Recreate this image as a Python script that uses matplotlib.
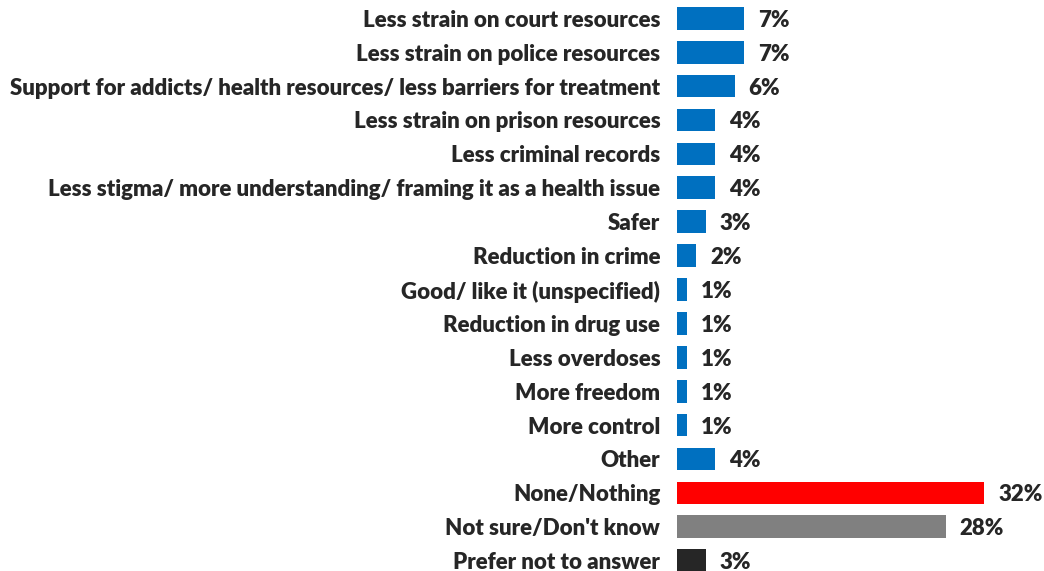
import matplotlib
matplotlib.use('Agg')
import matplotlib.pyplot as plt

# Answers, top to bottom
categories = [
    'Less strain on court resources',
    'Less strain on police resources',
    'Support for addicts/ health resources/ less barriers for treatment',
    'Less strain on prison resources',
    'Less criminal records',
    'Less stigma/ more understanding/ framing it as a health issue',
    'Safer',
    'Reduction in crime',
    'Good/ like it (unspecified)',
    'Reduction in drug use',
    'Less overdoses',
    'More freedom',
    'More control',
    'Other',
    'None/Nothing',
    "Not sure/Don't know",
    'Prefer not to answer',
]
values = [7, 7, 6, 4, 4, 4, 3, 2, 1, 1, 1, 1, 1, 4, 32, 28, 3]
value_labels = ['7%', '7%', '6%', '4%', '4%', '4%', '3%', '2%', '1%', '1%',
                '1%', '1%', '1%', '4%', '32%', '28%', '3%']

blue = '#0070C0'
colors = [blue] * 14 + ['#FF0000', '#808080', '#262626']
text_color = '#262626'

plt.rcParams['font.family'] = ['Lato', 'DejaVu Sans']

fig = plt.figure(figsize=(10.44, 5.71), dpi=100)
ax = fig.add_axes([677 / 1044, 0, 367 / 1044, 1])

pos = list(range(len(categories)))
ax.barh(pos, values, height=0.67, color=colors)

for p, v, lab in zip(pos, values, value_labels):
    ax.annotate(lab, xy=(v, p), xytext=(14, -2), textcoords='offset pixels',
                ha='left', va='center', fontsize=16, fontweight='heavy',
                color=text_color)

ax.set_yticks(pos)
ax.set_yticklabels(categories, fontsize=16, fontweight='heavy', color=text_color)
ax.tick_params(axis='y', length=0, pad=12)
ax.set_xticks([])
ax.set_xlim(0, 367 / 9.6)
ax.set_ylim(16 + 10.3 / 33.9, -18.3 / 33.9)
for s in ax.spines.values():
    s.set_visible(False)

fig.savefig('out.png', dpi=100)
